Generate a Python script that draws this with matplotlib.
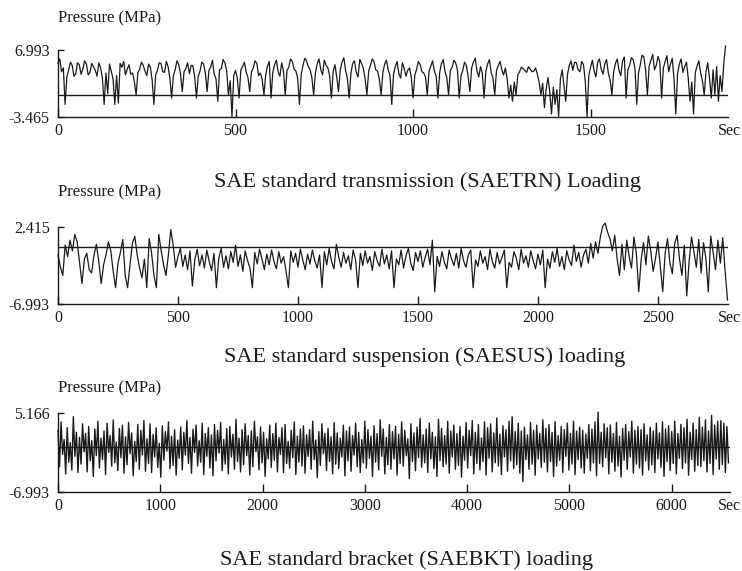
import matplotlib

matplotlib.use("Agg")
import matplotlib.pyplot as plt

plt.rcParams["font.family"] = ["Liberation Serif", "DejaVu Serif"]

W, H = 742, 571

# SAETRN transmission loading, sampled every 5 s (MPa)
trn_step = 5
trn_values = [
    4.9, 5.6, 3.6, 4.2, -1.5, 2.8, 3.9, 5.1, 4.6, 2.9,
    3.3, 5.0, 4.7, 3.2, 4.0, 5.3, 4.8, 3.1, 3.5, 4.9,
    4.4, 3.8, 2.9, 5.0, 4.2, 2.6, -1.5, 3.4, 0.2, 4.8,
    3.7, 2.5, -1.5, 3.0, -1.3, 4.9, 4.3, 5.2, 3.1, 4.0,
    4.7, 3.2, 3.4, 2.1, 0.0, 3.5, 4.0, 5.1, 4.6, 3.7,
    3.0, 4.8, 4.3, 2.4, -1.5, 3.1, 3.8, 5.0, 4.9, 3.6,
    3.5, 5.2, 4.4, 2.6, -0.5, 3.0, 3.9, 5.3, 4.7, 3.3,
    0.5, 3.6, 4.1, 5.0, 3.3, 4.6, 4.5, 2.8, -0.5, 2.9,
    3.7, 5.1, 4.8, 3.4, 0.5, 3.8, 4.3, 5.4, 3.2, 2.5,
    -1.0, 3.9, 4.1, 5.5, 5.0, 3.8, 0.0, 2.2, -3.4, 3.0,
    3.8, 2.6, -0.5, 3.9, 4.4, 5.1, 3.5, 2.7, 0.5, 3.6,
    4.2, 5.3, 4.9, 3.0, 3.4, 2.4, 0.0, 3.1, 4.5, 5.2,
    -0.5, 3.5, 4.7, 5.4, 3.6, 2.9, 5.0, 3.7, 0.0, 3.8,
    4.3, 5.6, 5.2, 4.0, 3.7, 2.6, -1.5, 3.2, 4.6, 5.7,
    5.3, 4.4, 3.9, 2.7, 0.0, 3.4, 4.8, 5.6, 4.0, 3.1,
    5.4, 4.6, 4.2, 3.0, -0.5, 3.6, 4.7, 2.8, 0.5, 3.9,
    5.1, 5.8, 3.8, 2.6, -0.5, 3.4, 4.9, 5.3, 3.5, 2.8,
    5.5, 4.9, 4.1, 2.5, 0.0, 3.7, 4.6, 5.6, 5.2, 3.9,
    3.7, 2.4, 0.0, 3.5, 4.8, 5.4, 3.9, 3.0, -1.5, 3.2,
    4.4, 5.2, 3.3, 2.6, 5.0, 4.1, 2.9, 3.8, 4.2, 2.7,
    -0.5, 3.1, 4.0, 5.2, 4.7, 3.6, 3.4, 2.8, 0.0, 3.7,
    4.5, 5.3, 3.7, 2.9, -0.5, 3.5, 4.9, 5.5, 3.6, 2.7,
    0.0, 3.8, 4.3, 5.4, 5.0, 3.9, -0.5, 3.0, 3.8, 5.1,
    4.6, 2.9, 0.5, 4.2, 5.1, 5.7, 3.7, 2.8, 4.4, 3.4,
    -0.5, 3.7, 4.8, 5.5, 3.5, 2.6, 0.0, 3.8, 4.6, 5.2,
    3.9, 3.1, 4.2, 2.5, -0.5, 1.5, -1.0, 2.0, 0.0, 3.1,
    3.6, 4.3, 4.1, 3.8, 3.5, 4.4, 4.0, 3.6, 3.7, 4.2,
    3.2, 2.0, 0.0, 1.8, -2.0, 1.0, 2.7, 0.5, -3.0, 1.2,
    -1.5, 0.8, -3.4, 2.5, 3.9, 1.5, -1.0, 3.2, 4.6, 5.3,
    3.8, 5.1, 5.0, 3.9, 3.6, 5.2, 4.7, 2.1, -3.4, 3.0,
    4.3, 5.4, 3.7, 2.8, 5.1, 5.6, 4.0, 3.2, 4.8, 5.5,
    3.4, 2.3, 0.0, 3.6, 4.9, 5.6, 3.8, 3.0, 5.3, 5.9,
    -0.5, 3.9, 4.6, 5.8, 5.5, 4.1, -1.5, 3.4, 4.7, 6.2,
    5.9, 3.8, 0.0, 4.5, 5.4, 6.3, 3.9, 4.6, 6.0, 5.1,
    -0.5, 4.2, 5.2, 6.1, 3.6, 4.8, 5.7, 2.4, -3.0, 3.3,
    4.8, 5.6, 3.5, 4.4, 5.1, 2.6, -1.0, 2.0, -3.0, 3.5,
    4.5, 5.3, 3.4, 2.2, 0.0, 3.6, 5.0, 2.5, -0.5, 3.9,
    0.0, 4.4, -1.0, 3.0, 0.5, 4.8, 7.6,
]

# SAESUS suspension loading, sampled every 10 s (MPa)
sus_step = 10
sus_values = [
    -1.0, -2.5, -3.5, 0.2, -1.2, 0.8, -0.5, 1.5, 0.6, -2.0,
    -4.5, -1.5, -0.8, -2.8, -3.2, -1.0, 0.3, -1.8, -4.5, -2.2,
    -1.0, 0.6, -0.5, -3.0, -5.0, -2.0, -0.7, 0.9, -3.5, -5.0,
    -2.2, 0.4, 1.3, -1.0, -2.6, -3.8, -1.5, -5.0, 1.0, -0.8,
    -3.5, -5.0, 1.5, -0.5, -2.2, -3.5, -1.0, 2.1, 0.2, -2.5,
    -1.2, -0.2, -2.4, -1.0, -2.8, -0.5, -4.8, -1.6, -0.3, -2.3,
    -1.0, -2.6, -0.4, -1.8, -2.9, -0.8, -5.0, -1.4, -0.2, -2.5,
    -1.1, -2.7, -0.6, -1.9, 0.2, -2.4, -1.0, -3.0, -0.5, -1.7,
    -2.6, -5.0, -0.7, -2.1, -0.3, -1.5, -2.8, -0.9, -2.2, -0.4,
    -1.8, -2.7, -0.6, -2.0, -1.2, -2.9, -5.0, -0.5, -1.9, -0.8,
    -2.5, -0.3, -1.6, -2.8, -0.9, -2.1, -0.4, -1.7, -2.6, -1.0,
    -5.0, -0.6, -2.2, -0.2, -1.8, -2.7, 0.3, -1.3, -2.5, -0.7,
    -2.0, -1.1, -2.8, -0.4, -1.6, -5.0, -0.8, -2.3, -0.5, -2.0,
    -1.2, -2.9, -0.6, -1.7, -2.4, -0.3, -2.1, -1.0, -2.7, -0.5,
    -5.0, -1.5, -2.2, -0.4, -2.6, -1.1, -0.2, -2.0, -2.9, -0.7,
    -1.8, -0.5, -2.5, -1.3, -0.3, -2.2, 0.8, -5.5, -1.2, -2.4,
    -0.6, -1.9, -2.7, -0.4, -1.5, -2.3, -0.8, -2.6, -0.2, -1.7,
    -2.5, -1.0, -0.4, -5.0, -1.6, -2.4, -0.5, -2.0, -1.2, -2.8,
    -0.3, -1.8, -2.6, -0.7, -2.1, -1.3, -0.4, -5.0, -1.9, -2.5,
    -0.6, -1.4, -2.8, -0.3, -2.0, -1.1, -2.5, -0.5, -1.7, -2.7,
    -0.9, -2.2, -0.4, -5.0, -1.5, -2.6, -0.6, -1.9, -0.2, -2.4,
    -1.2, -2.8, -0.5, -1.6, -2.3, 0.2, -1.8, -0.7, -2.5, -1.0,
    -0.3, -2.0, 0.4, -1.4, 0.6, -0.8, 1.2, 2.5, 2.9, 1.8,
    1.0, -0.5, 1.4, -1.5, -3.5, 0.3, -2.8, 0.8, -1.2, -2.6,
    1.2, -0.8, -5.5, -1.6, 0.5, -2.2, 1.3, -0.5, -3.0, -1.4,
    0.6, -2.5, -5.5, -0.8, 1.0, -2.0, -3.3, 0.4, 1.4, -1.5,
    -3.5, 0.2, -6.0, -1.8, 1.2, -0.6, -2.5, 0.9, -3.2, 0.5,
    -1.5, -5.5, 1.3, -0.7, -2.8, 0.8, -2.0, 1.1, -3.0, -6.5,
]

# SAEBKT bracket loading, sampled every 15 s (MPa)
bkt_step = 15
bkt_values = [
    2.5, -3.1, 3.8, -1.2, 1.1, -4.2, 2.9, -2.4, 0.6, -3.6, 4.6, -1.5, 2.2, -4.0, 1.4, -2.7, 3.5, -0.8, 2.0, -3.9,
    3.1, -2.2, 0.9, -4.6, 2.7, -1.4, 3.9, -3.3, 1.3, -2.0, 2.4, -4.3, 3.6, -0.9, 1.7, -3.0, 4.1, -2.5, 0.7, -3.7,
    2.8, -1.7, 3.3, -4.1, 1.5, -2.8, 3.7, -1.1, 2.1, -4.5, 0.8, -2.3, 3.4, -3.5, 2.5, -1.3, 4.0, -3.8, 1.2, -2.6,
    3.5, -4.0, 1.9, -1.6, 2.9, -3.2, 0.5, -4.7, 3.2, -2.1, 2.3, -0.7, 3.8, -3.4, 1.6, -2.9, 2.6, -4.4, 1.0, -1.8,
    3.0, -3.6, 2.2, -1.3, 4.0, -2.6, 1.4, -4.1, 2.7, -0.9, 3.3, -3.0, 0.9, -2.4, 3.6, -4.3, 2.0, -1.5, 2.9, -3.3,
    1.8, -4.5, 3.4, -2.2, 2.5, -1.0, 3.7, -3.7, 1.1, -2.7, 2.8, -4.2, 3.1, -1.6, 1.9, -3.5, 4.2, -2.3, 1.3, -3.9,
    2.6, -2.8, 3.5, -1.4, 1.7, -4.4, 2.4, -3.1, 3.9, -0.8, 1.5, -3.6, 3.0, -2.5, 2.2, -4.6, 1.2, -1.9, 3.3, -3.2,
    2.0, -2.1, 3.6, -3.9, 1.4, -1.2, 2.9, -4.0, 3.4, -2.6, 0.8, -3.3, 2.5, -1.7, 3.8, -4.3, 1.6, -2.4, 2.7, -3.0,
    3.2, -4.1, 1.8, -1.5, 2.6, -3.5, 3.9, -2.0, 1.0, -4.8, 2.3, -2.9, 3.5, -1.1, 2.0, -3.7, 2.8, -2.3, 1.5, -4.2,
    3.7, -2.7, 2.1, -3.4, 1.3, -1.6, 3.3, -4.5, 2.4, -2.2, 3.0, -3.8, 1.7, -1.3, 3.6, -3.1, 2.2, -4.0, 1.1, -2.5,
    3.9, -3.3, 2.6, -1.8, 1.6, -4.6, 3.2, -2.4, 2.0, -3.6, 4.1, -1.5, 2.7, -4.2, 1.4, -2.8, 3.4, -3.5, 2.3, -1.9,
    3.1, -4.4, 1.9, -2.6, 3.8, -3.0, 2.5, -1.4, 1.2, -4.9, 3.5, -2.3, 2.1, -3.7, 3.0, -1.7, 4.3, -3.2, 1.8, -2.5,
    2.7, -4.0, 3.6, -1.9, 2.2, -3.4, 1.5, -4.6, 4.2, -2.2, 2.8, -3.1, 1.7, -2.7, 3.9, -4.1, 2.4, -1.6, 3.3, -3.5,
    2.0, -2.9, 3.1, -4.7, 1.6, -2.1, 3.7, -3.3, 2.5, -1.4, 4.0, -4.2, 2.2, -2.6, 3.4, -3.6, 1.3, -2.3, 3.8, -4.4,
    2.9, -1.8, 3.5, -3.9, 2.1, -2.5, 4.4, -3.0, 1.9, -4.3, 3.2, -1.6, 2.6, -3.8, 3.9, -2.2, 4.6, -3.4, 2.3, -2.8,
    3.6, -4.1, 2.4, -5.4, 3.0, -2.0, 1.8, -3.5, 3.7, -2.7, 2.5, -4.4, 3.3, -1.9, 2.0, -3.2, 4.1, -2.4, 2.8, -3.9,
    3.4, -2.3, 2.2, -4.6, 3.8, -3.0, 1.7, -2.1, 3.1, -4.0, 2.6, -1.5, 3.6, -3.6, 2.0, -2.7, 3.9, -4.3, 2.4, -2.0,
    3.0, -3.3, 2.5, -4.1, 1.9, -1.8, 3.4, -3.7, 2.7, -2.5, 3.8, -4.5, 5.3, -2.6, 2.2, -3.1, 3.5, -1.7, 2.9, -4.2,
    3.3, -2.4, 2.0, -3.8, 3.7, -3.0, 1.6, -4.7, 2.8, -2.1, 3.4, -3.5, 2.3, -1.6, 3.9, -4.1, 2.5, -2.7, 3.1, -3.3,
    2.6, -4.4, 3.5, -2.2, 1.8, -3.6, 3.0, -2.8, 2.4, -4.0, 3.6, -1.9, 2.1, -3.2, 3.8, -4.6, 2.7, -2.3, 3.2, -3.7,
    2.3, -2.6, 3.9, -4.2, 2.0, -1.8, 3.4, -3.4, 2.9, -2.5, 4.2, -4.4, 2.2, -2.0, 3.6, -3.8, 2.6, -2.9, 4.5, -3.1,
    3.0, -2.2, 4.1, -3.9, 2.4, -2.6, 4.8, -4.3, 3.3, -1.9, 3.9, -3.5, 4.0, -2.8, 3.6, -4.0, 3.1, -2.5,
]

panels = [
    # values, step, y range, x ticks, x max, axes box in pixels (left, top, right, bottom),
    # title, title centre x / y, "Pressure" label y, line width
    (trn_values, trn_step, (-3.465, 6.993), [0, 500, 1000, 1500], 1887,
     (58, 50, 728, 117), "SAE standard transmission (SAETRN) Loading", 427, 182, 18, 0.9),
    (sus_values, sus_step, (-6.993, 2.415), [0, 500, 1000, 1500, 2000, 2500], 2792,
     (58, 227, 728, 304), "SAE standard suspension (SAESUS) loading", 425, 357, 192, 0.9),
    (bkt_values, bkt_step, (-6.993, 5.166), [0, 1000, 2000, 3000, 4000, 5000, 6000], 6570,
     (58, 413, 730, 492), "SAE standard bracket (SAEBKT) loading", 407, 560, 388, 1.0),
]

fig = plt.figure(figsize=(W / 100, H / 100), dpi=100)
ink = "#1a1a1a"

for values, step, (ylo, yhi), xticks, xmax, box, title, tx, ty, py, lw in panels:
    l, t, r, b = box
    ax = fig.add_axes([l / W, 1 - b / H, (r - l) / W, (b - t) / H])
    times = [i * step for i in range(len(values))]
    ax.plot(times, values, color=ink, lw=lw, clip_on=False)
    ax.axhline(0, color=ink, lw=1.0)

    ax.set_xlim(0, xmax)
    ax.set_ylim(ylo, yhi)
    for side in ("top", "right"):
        ax.spines[side].set_visible(False)
    for side in ("left", "bottom"):
        ax.spines[side].set_color(ink)
        ax.spines[side].set_linewidth(1.0)

    ax.set_xticks(xticks)
    ax.set_xticklabels([str(v) for v in xticks])
    ax.set_yticks([ylo, yhi])
    ax.set_yticklabels([f"{ylo:.3f}", f"{yhi:.3f}"])
    ax.tick_params(axis="x", direction="in", length=6, width=1.0, pad=4,
                   labelsize=11.5, colors=ink)
    ax.tick_params(axis="y", direction="in", length=4, width=1.0, pad=6,
                   labelsize=11.5, colors=ink)

    # "Sec" sits at the end of the time axis, level with the tick labels
    ax.annotate("Sec", xy=(718 / W, 0), xycoords=("figure fraction", "axes fraction"),
                xytext=(0, -4), textcoords="offset points", ha="left", va="top",
                fontsize=11.5, color=ink, annotation_clip=False)
    fig.text(l / W, 1 - py / H, "Pressure (MPa)", ha="left", va="center",
             fontsize=12, color=ink)
    fig.text(tx / W, 1 - ty / H, title, ha="center", va="center",
             fontsize=16, color=ink)

fig.savefig("out.png", dpi=100)
